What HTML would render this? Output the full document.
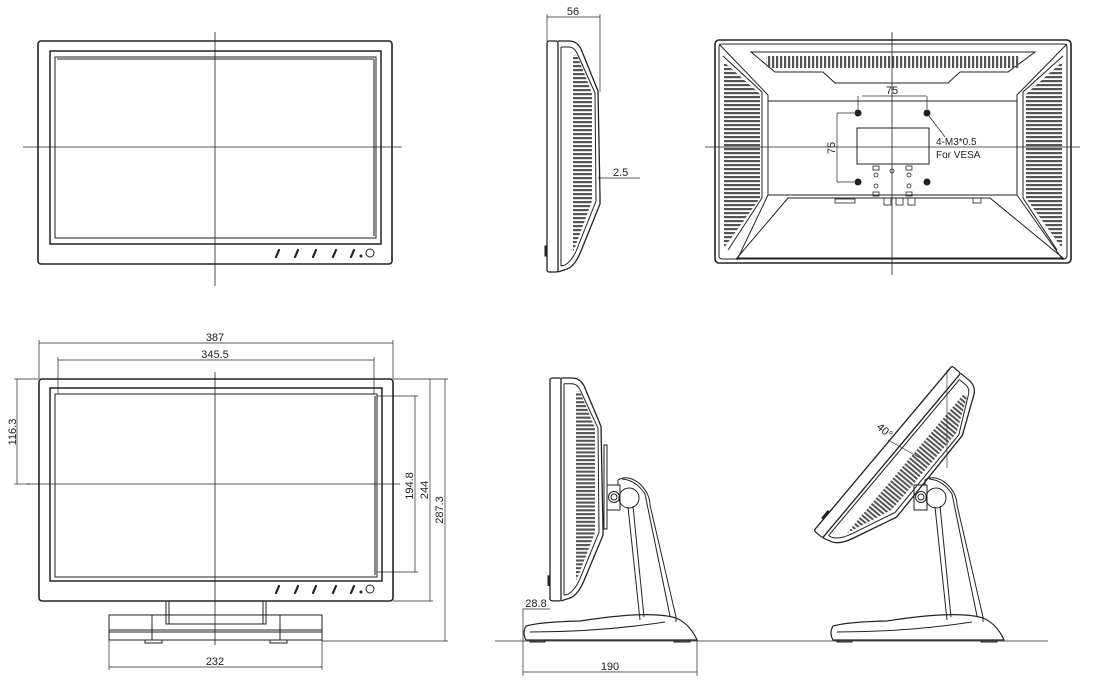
<!DOCTYPE html>
<html><head><meta charset="utf-8"><style>
html,body{margin:0;padding:0;background:#fff;}
svg{display:block}
text{font-family:"Liberation Sans",sans-serif;fill:#222;}
</style></head><body>
<svg width="1104" height="696" viewBox="0 0 1104 696" xmlns="http://www.w3.org/2000/svg" fill="none" stroke="#222" stroke-width="1">
<defs>
<pattern id="hv" width="8" height="4" patternUnits="userSpaceOnUse"><rect x="0" y="0" width="8" height="2.2" fill="#555" stroke="none"/></pattern>
<pattern id="vv" width="4" height="8" patternUnits="userSpaceOnUse"><rect x="0" y="0" width="2.2" height="8" fill="#555" stroke="none"/></pattern>
<clipPath id="sc"><path d="M26,14 L30,14 L45,52 L45,160 L28,206 L26,210 Z"/></clipPath>
<clipPath id="bl"><path d="M724,62 L760,94 L760,198 L724,248 Z"/></clipPath>
<clipPath id="br"><path d="M1062,62 L1026,94 L1026,198 L1062,248 Z"/></clipPath>
<g id="side">
  <rect x="0" y="0" width="11" height="231" rx="2" stroke-width="1.3"/>
  <path d="M11,0 L22,0 Q30,0 34,8 L51,50 L53,155 L53,163 L34,210 Q28,225 20,228 L11,231" stroke-width="1.3"/>
  <path d="M14,6 L22,6 Q27,6 30,12 L48,52 L49,160 L30,208 Q25,220 18,224 L14,225"/>
  <line x1="14" y1="6" x2="14" y2="225"/>
  <rect x="26" y="14" width="20" height="200" fill="url(#hv)" stroke="none" clip-path="url(#sc)"/>
  <rect x="-2" y="205" width="2" height="10" fill="#222"/>
</g>
<g id="stand">
  <path d="M618,485 L618,480 Q628,474 640,484 Q650,494 650,505 L676,617 L676,622"/>
  <path d="M622,479 Q636,480 645,494 L670,616"/>
  <circle cx="629" cy="498" r="10"/>
  <circle cx="614" cy="497" r="5.5"/><circle cx="614" cy="497" r="3"/>
  <path d="M607,485 L620,485 L620,510 L607,510 Z"/>
  <path d="M628,507 L640,620"/><path d="M633,506 L644,617"/>
  <path d="M526,626 Q540,622 580,621 Q650,610 676,618 Q690,624 697,640 L526,640 Q522,633 526,626 Z" stroke-width="1.2"/>
  <path d="M530,632 Q600,632 665,622"/>
  <path d="M530,640 L545,640 L545,642 L530,642 Z M674,640 L690,640 L690,642 L674,642 Z"/>
</g>
</defs>

<!-- Top-left front view -->
<rect x="38" y="41" width="354" height="223" rx="3" stroke-width="1.6"/>
<rect x="50" y="51" width="331" height="193" stroke-width="1.5"/>
<rect x="55" y="57" width="321" height="181"/>
<line x1="57" y1="59" x2="374" y2="59"/><line x1="374" y1="59" x2="374" y2="236" stroke-width="2" stroke="#888"/>
<line x1="215" y1="32" x2="215" y2="286" stroke-width="0.8"/>
<line x1="23" y1="147" x2="402" y2="147" stroke-width="0.8"/>
<g stroke-width="2.2" stroke-linecap="round">
<line x1="276" y1="257" x2="279" y2="250"/><line x1="295" y1="257" x2="298" y2="250"/><line x1="313" y1="257" x2="316" y2="250"/><line x1="333" y1="257" x2="336" y2="250"/><line x1="351" y1="257" x2="354" y2="250"/>
</g>
<circle cx="361" cy="256" r="1" fill="#222"/><circle cx="370" cy="253" r="4"/>

<!-- Top side view -->
<use href="#side" transform="translate(547,41)"/>
<line x1="547" y1="14" x2="547" y2="41" stroke-width="0.7"/><line x1="600" y1="14" x2="600" y2="92" stroke-width="0.7"/>
<line x1="547" y1="17" x2="600" y2="17" stroke-width="0.7"/>
<text x="573" y="15" font-size="11" text-anchor="middle" stroke="none">56</text>
<line x1="598" y1="178" x2="640" y2="178" stroke-width="0.7"/>
<text x="613" y="176" font-size="11" stroke="none">2.5</text>

<!-- Top right back view -->
<rect x="715" y="40" width="356" height="223" rx="4" stroke-width="1.6"/>
<rect x="719" y="44" width="348" height="215" rx="3"/>
<path d="M751,52 L1035,52 L1008,72 L960,72 L948,83 L835,83 L823,72 L775,72 Z"/>
<rect x="766" y="56" width="254" height="12" fill="url(#vv)" stroke="none"/>
<path d="M719,44 L768,95 L768,195 L737,260"/><path d="M1067,44 L1017,95 L1017,195 L1063,260"/>
<path d="M723,56 L762,92 L762,198 L728,250"/><path d="M1063,56 L1023,92 L1023,198 L1057,250"/>
<rect x="724" y="60" width="36" height="190" fill="url(#hv)" stroke="none" clip-path="url(#bl)"/>
<rect x="1026" y="60" width="36" height="190" fill="url(#hv)" stroke="none" clip-path="url(#br)"/>
<line x1="768" y1="101" x2="1017" y2="101"/>
<path d="M788,198 L990,198 L1063,258 L737,258 Z"/>
<line x1="768" y1="195" x2="1017" y2="195"/>
<rect x="857" y="128" width="72" height="36"/>
<circle cx="858" cy="113" r="3" fill="#222"/><circle cx="927" cy="113" r="3" fill="#222"/>
<circle cx="858" cy="182" r="3" fill="#222"/><circle cx="927" cy="182" r="3" fill="#222"/>
<g stroke-width="0.8"><circle cx="876" cy="175" r="2"/><circle cx="909" cy="175" r="2"/><circle cx="876" cy="186" r="2"/><circle cx="909" cy="186" r="2"/><circle cx="892" cy="171" r="2"/>
<rect x="873" y="166" width="6" height="4"/><rect x="906" y="166" width="6" height="4"/><rect x="873" y="192" width="6" height="4"/><rect x="906" y="192" width="6" height="4"/>
<rect x="884" y="198" width="7" height="7"/><rect x="896" y="198" width="7" height="7"/><rect x="908" y="198" width="7" height="7"/><rect x="835" y="199" width="20" height="4"/><rect x="973" y="198" width="8" height="5"/></g>
<line x1="862" y1="96" x2="926" y2="96" stroke-width="0.7"/><line x1="858" y1="96" x2="858" y2="109" stroke-width="0.7"/><line x1="927" y1="96" x2="927" y2="109" stroke-width="0.7"/>
<text x="892" y="94" font-size="11" text-anchor="middle" stroke="none">75</text>
<line x1="837" y1="113" x2="837" y2="182" stroke-width="0.7"/><line x1="837" y1="113" x2="854" y2="113" stroke-width="0.7"/><line x1="837" y1="182" x2="854" y2="182" stroke-width="0.7"/>
<text transform="translate(835,148) rotate(-90)" font-size="11" text-anchor="middle" stroke="none">75</text>
<line x1="929" y1="116" x2="945" y2="137" stroke-width="0.7"/>
<text x="936" y="145" font-size="10" stroke="none" font-family="Liberation Mono">4-M3*0.5</text>
<text x="936" y="158" font-size="10" stroke="none" font-family="Liberation Mono">For VESA</text>
<line x1="892" y1="32" x2="892" y2="275" stroke-width="0.8"/>
<line x1="705" y1="147" x2="1080" y2="147" stroke-width="0.8"/>

<!-- Bottom-left front view with dims -->
<rect x="39" y="379" width="354" height="222" rx="3" stroke-width="1.6"/>
<rect x="50" y="388" width="332" height="193" stroke-width="1.5"/>
<rect x="55" y="394" width="322" height="183"/>
<line x1="375" y1="396" x2="375" y2="575" stroke-width="2" stroke="#888"/>
<g stroke-width="2.2" stroke-linecap="round">
<line x1="276" y1="593" x2="279" y2="586"/><line x1="295" y1="593" x2="298" y2="586"/><line x1="313" y1="593" x2="316" y2="586"/><line x1="333" y1="593" x2="336" y2="586"/><line x1="351" y1="593" x2="354" y2="586"/>
</g>
<circle cx="361" cy="592" r="1" fill="#222"/><circle cx="370" cy="589" r="4"/>
<path d="M166,601 L166,624 L266,624 L266,601"/><path d="M169,601 L169,624"/><path d="M263,601 L263,624"/>
<rect x="109" y="615" width="213" height="25"/>
<line x1="109" y1="630" x2="322" y2="630"/><line x1="109" y1="632" x2="322" y2="632"/>
<line x1="152" y1="615" x2="152" y2="640"/><line x1="280" y1="615" x2="280" y2="640"/>
<rect x="145" y="640" width="17" height="3"/><rect x="270" y="640" width="17" height="3"/>
<line x1="215" y1="372" x2="215" y2="645" stroke-width="0.8"/>
<line x1="27" y1="484" x2="400" y2="484" stroke-width="0.8"/>
<g stroke-width="0.7">
<line x1="39" y1="340" x2="39" y2="379"/><line x1="393" y1="340" x2="393" y2="379"/><line x1="39" y1="343" x2="393" y2="343"/>
<line x1="58" y1="357" x2="58" y2="394"/><line x1="374" y1="357" x2="374" y2="394"/><line x1="58" y1="360" x2="374" y2="360"/>
<line x1="14" y1="379" x2="39" y2="379"/><line x1="17" y1="379" x2="17" y2="484"/><line x1="14" y1="484" x2="30" y2="484"/>
<line x1="377" y1="396" x2="418" y2="396"/><line x1="377" y1="572" x2="418" y2="572"/><line x1="415" y1="396" x2="415" y2="572"/>
<line x1="393" y1="379" x2="448" y2="379"/><line x1="393" y1="601" x2="433" y2="601"/><line x1="430" y1="379" x2="430" y2="601"/>
<line x1="322" y1="641" x2="448" y2="641"/><line x1="445" y1="379" x2="445" y2="641"/>
<line x1="109" y1="640" x2="109" y2="670"/><line x1="322" y1="640" x2="322" y2="670"/><line x1="109" y1="667" x2="322" y2="667"/>
</g>
<g font-size="11" stroke="none" text-anchor="middle">
<text x="215" y="341" stroke="none">387</text>
<text x="215" y="358" stroke="none">345.5</text>
<text x="215" y="665" stroke="none">232</text>
<text transform="translate(16,432) rotate(-90)" stroke="none">116.3</text>
<text transform="translate(413,486) rotate(-90)" stroke="none">194.8</text>
<text transform="translate(428,490) rotate(-90)" stroke="none">244</text>
<text transform="translate(443,510) rotate(-90)" stroke="none">287.3</text>
</g>

<!-- Bottom side view -->
<line x1="495" y1="641" x2="1048" y2="641" stroke-width="0.8"/>
<use href="#side" transform="translate(550,378) scale(1,0.965)"/>
<rect x="604" y="445" width="3" height="84"/>
<use href="#stand"/>
<g stroke-width="0.7">
<line x1="523" y1="609" x2="550" y2="609"/><line x1="523" y1="609" x2="523" y2="676"/>
<line x1="697" y1="640" x2="697" y2="676"/><line x1="523" y1="672" x2="697" y2="672"/>
</g>
<text x="536" y="607" font-size="11" stroke="none" text-anchor="middle">28.8</text>
<text x="610" y="670" font-size="11" stroke="none" text-anchor="middle">190</text>

<!-- Tilted view -->
<use href="#stand" transform="translate(307,0)"/>
<use href="#side" transform="translate(952,366) rotate(40) scale(1.03,0.93)"/>
<line x1="947" y1="370" x2="947" y2="468" stroke-width="0.6"/>
<line x1="888" y1="440" x2="920" y2="458" stroke-width="0.6"/>
<text transform="translate(876,428) rotate(40)" font-size="11" stroke="none">40°</text>
</svg>
</body></html>
